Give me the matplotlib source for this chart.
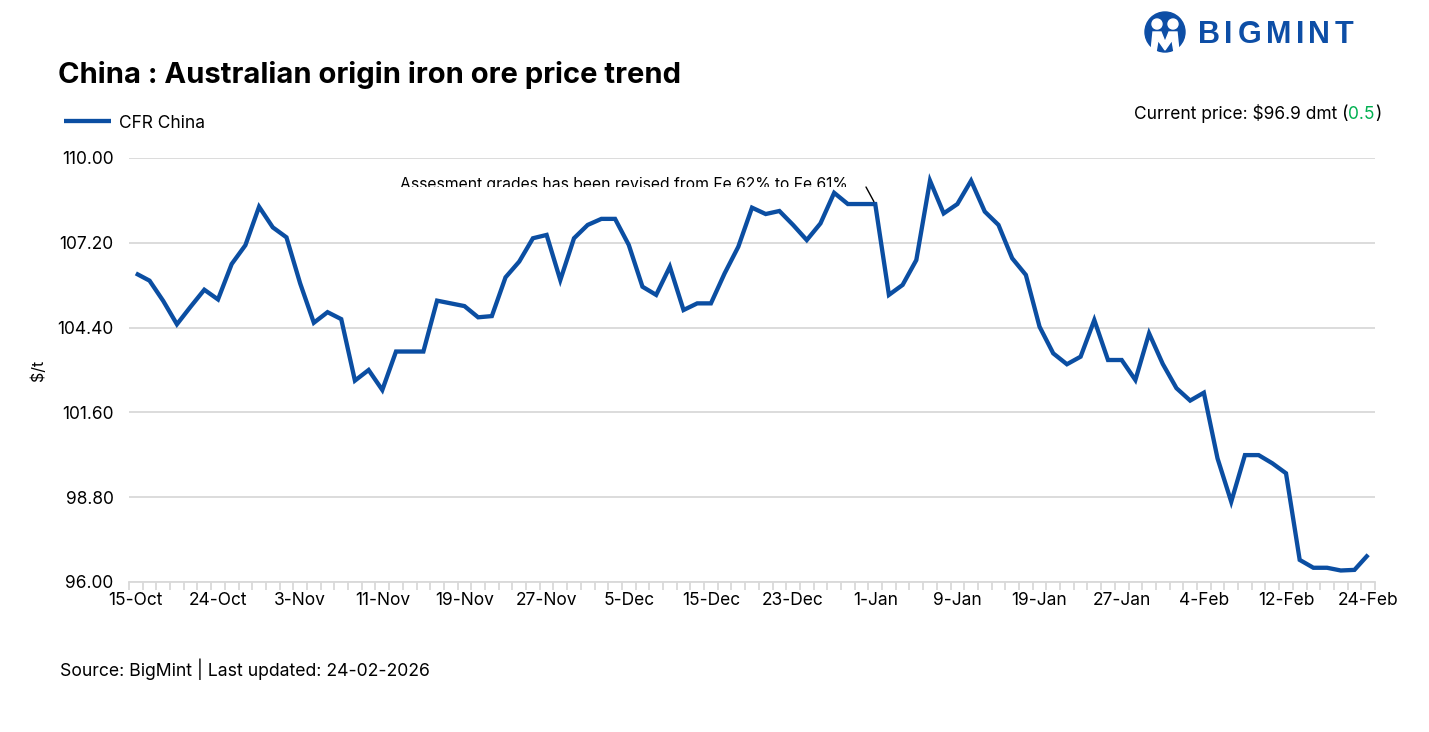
import matplotlib
matplotlib.use("Agg")
import matplotlib.pyplot as plt
from matplotlib.patches import Ellipse, Polygon
from matplotlib.transforms import Bbox
import numpy as np

# ---------------- data ----------------
series_name = "CFR China"
prices = [
    106.19, 105.95, 105.28, 104.51, 105.09, 105.65, 105.33, 106.50, 107.12, 108.39,
    107.71, 107.38, 105.86, 104.56, 104.91, 104.68, 102.65, 103.00, 102.34, 103.61,
    103.61, 103.61, 105.29, 105.20, 105.11, 104.74, 104.78, 106.06, 106.58, 107.35,
    107.46, 105.97, 107.35, 107.79, 107.99, 107.99, 107.13, 105.75, 105.48, 106.41,
    104.98, 105.20, 105.20, 106.19, 107.07, 108.36, 108.15, 108.25, 107.79, 107.29,
    107.84, 108.85, 108.48, 108.48, 108.48, 105.48, 105.81, 106.63, 109.25, 108.17,
    108.48, 109.25, 108.23, 107.79, 106.69, 106.14, 104.43, 103.55, 103.19, 103.44,
    104.65, 103.33, 103.33, 102.67, 104.21, 103.20, 102.40, 101.99, 102.25, 100.08,
    98.65, 100.19, 100.19, 99.92, 99.59, 96.73, 96.47, 96.47, 96.38, 96.40,
    96.90,
]
tick_labels = ["15-Oct", "24-Oct", "3-Nov", "11-Nov", "19-Nov", "27-Nov", "5-Dec",
               "15-Dec", "23-Dec", "1-Jan", "9-Jan", "19-Jan", "27-Jan", "4-Feb",
               "12-Feb", "24-Feb"]
label_step = 6
y_ticks = [96.00, 98.80, 101.60, 104.40, 107.20, 110.00]
revision_index = 54
current_price = 96.9
price_change = 0.5

# ---------------- figure ----------------
W, H = 1429, 732
FONT = "Inter"
plt.rcParams["font.family"] = [FONT, "DejaVu Sans"]
fig = plt.figure(figsize=(W / 100, H / 100), dpi=100)
fig.patch.set_facecolor("white")

def fx(px):
    return px / W

def fy(py):
    return 1 - py / H

ax = fig.add_axes([fx(129), fy(582), fx(1375) - fx(129), fy(158) - fy(582)])
x = np.arange(len(prices))
line_color = "#0B4EA2"
ax.plot(x, prices, color=line_color, lw=3.1, solid_joinstyle="miter",
        solid_capstyle="butt", label=series_name, zorder=3)

ax.set_xlim(-0.5, len(prices) - 0.5)
ax.set_ylim(y_ticks[0], y_ticks[-1])
ax.set_yticks(y_ticks)
ax.set_yticklabels([f"{v:.2f}" for v in y_ticks])
ax.yaxis.grid(True, color="#d9d9d9", lw=1.3)
ax.set_axisbelow(True)

major = x[::label_step]
ax.set_xticks(major)
ax.set_xticklabels(tick_labels[:len(major)])
ax.set_xticks(np.arange(-0.5, len(prices) + 0.5, 1.0), minor=True)
ax.tick_params(axis="x", which="major", length=0, pad=7, labelsize=12.5)
ax.tick_params(axis="x", which="minor", length=6, width=1.3, color="#d9d9d9")
ax.tick_params(axis="y", length=0, pad=11, labelsize=12.5)

for s in ["top", "right", "left"]:
    ax.spines[s].set_visible(False)
ax.spines["bottom"].set_color("#d9d9d9")
ax.spines["bottom"].set_linewidth(1.3)

# y label
fig.text(fx(38), fy(370), "$/t", rotation=90, ha="center", va="center", fontsize=11.5)

# title
fig.text(fx(58), fy(75), "China : Australian origin iron ore price trend",
         fontsize=21, fontweight="bold", ha="left", va="center")

# legend
fig.legend(loc="center left", bbox_to_anchor=(fx(64), fy(123)), frameon=False,
           fontsize=12.5, handlelength=2.7, handletextpad=0.45,
           borderpad=0, borderaxespad=0)

# annotation (bottom clipped like the original)
ann = fig.text(fx(400), fy(189), "Assesment grades has been revised from Fe 62% to Fe 61%",
               fontsize=11.3, ha="left", va="baseline")
ann.set_clip_box(Bbox.from_extents(0, H - 187, W, H))
ann.set_clip_on(True)
ax.annotate("", xy=(revision_index, prices[revision_index]),
            xytext=(fx(866), fy(187)), textcoords="figure fraction",
            arrowprops=dict(arrowstyle="-", lw=1.0, color="black",
                            shrinkA=0, shrinkB=2), zorder=4)

# source
fig.text(fx(60), fy(669), "Source: BigMint | Last updated: 24-02-2026",
         fontsize=12.7, ha="left", va="center")

# current price with coloured change
fig.canvas.draw()
renderer = fig.canvas.get_renderer()
pieces = [(f"Current price: ${current_price:.1f} dmt (", "black"),
          (f"{price_change:.1f}", "#00B050"),
          (")", "black")]
right = 1381
base = fy(119)
for txt, col in reversed(pieces):
    t = fig.text(fx(right), base, txt, fontsize=12.5, color=col, ha="right", va="baseline")
    bb = t.get_window_extent(renderer)
    right = bb.x0

# logo
logo_blue = "#0D4EA6"
fig.patches.append(Ellipse((fx(1165), fy(32)), fx(40), 40 / H, color=logo_blue,
                           transform=fig.transFigure, figure=fig))
for hx in (1157, 1173):
    fig.patches.append(Ellipse((fx(hx), fy(24)), fx(10), 10 / H, color="white",
                               transform=fig.transFigure, figure=fig))
body = [(1151, 52), (1153, 32), (1161, 32), (1165, 42), (1169, 32), (1177, 32),
        (1179, 52), (1174, 52), (1172, 40), (1165, 50), (1158, 40), (1156, 52)]
fig.patches.append(Polygon([(fx(a), fy(b)) for a, b in body], closed=True,
                           color="white", transform=fig.transFigure, figure=fig))
lx = 1198
for ch in "BIGMINT":
    t = fig.text(fx(lx), fy(35), ch, fontsize=22, fontweight="heavy", color=logo_blue,
                 ha="left", va="center", family=["Liberation Sans"])
    bb = t.get_window_extent(renderer)
    lx = bb.x1 + 4.5

fig.savefig("out.png", dpi=100, facecolor="white")
